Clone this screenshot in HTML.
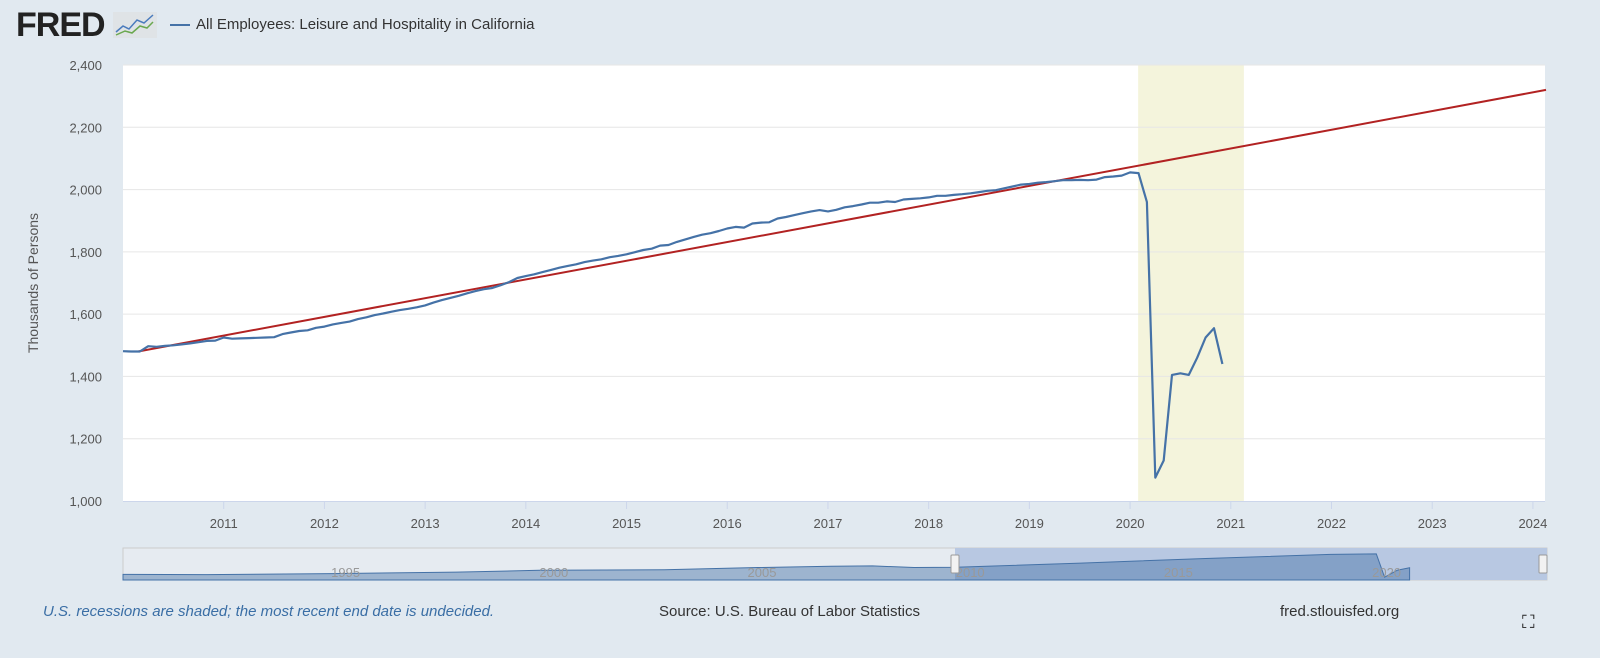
<!DOCTYPE html>
<html><head><meta charset="utf-8"><style>
body{margin:0;width:1600px;height:658px;background:#e1e9f0;font-family:"Liberation Sans",sans-serif;overflow:hidden;position:relative}
.t{position:absolute;white-space:nowrap}
</style></head><body>
<div class="t" style="left:16px;top:6px;font-size:34px;font-weight:bold;color:#222;letter-spacing:-1px">FRED</div>
<svg style="position:absolute;left:113px;top:12px" width="44" height="26"><rect x="0" y="0" width="44" height="26" fill="#dfe3e6"/><polyline points="3,20 10,14 16,17 24,8 31,11 40,3" fill="none" stroke="#4a7bbd" stroke-width="1.5"/><polyline points="3,23 12,19 19,21 27,14 34,16 40,10" fill="none" stroke="#6aa84f" stroke-width="1.5"/></svg>
<div class="t" style="left:170px;top:16px;font-size:15px;color:#333"><span style="display:inline-block;width:20px;height:2px;background:#4572a7;vertical-align:middle;margin-right:6px"></span>All Employees: Leisure and Hospitality in California</div>
<svg id="c" width="1600" height="658" style="position:absolute;left:0;top:0"></svg>
<div class="t" style="left:43px;top:603px;font-size:15px;font-style:italic;color:#3a6ea5">U.S. recessions are shaded; the most recent end date is undecided.</div>
<div class="t" style="left:659px;top:603px;font-size:15px;color:#333">Source: U.S. Bureau of Labor Statistics</div>
<div class="t" style="left:1280px;top:603px;font-size:15px;color:#333">fred.stlouisfed.org</div>
<div class="t" style="left:1522px;top:612px;font-size:18px;color:#222">⛶</div>
<script>
const yTicks=[1000,1200,1400,1600,1800,2000,2200,2400];
const xTicks=[2011,2012,2013,2014,2015,2016,2017,2018,2019,2020,2021,2022,2023,2024];
const startYear=2010;
const values=[1481,1480,1480,1497,1495,1498,1500,1503,1506,1510,1514,1515,
1525,1521,1522,1523,1524,1525,1526,1536,1541,1546,1548,1556,
1560,1567,1572,1576,1584,1590,1597,1602,1608,1613,1617,1622,
1628,1637,1645,1652,1659,1667,1674,1680,1684,1693,1703,1716,
1722,1728,1735,1742,1749,1755,1760,1767,1772,1776,1783,1787,
1792,1799,1806,1810,1820,1822,1832,1840,1848,1855,1860,1867,
1875,1880,1878,1891,1894,1895,1907,1912,1918,1924,1930,1934,
1930,1935,1943,1947,1952,1958,1958,1962,1960,1968,1970,1972,
1975,1980,1980,1983,1985,1988,1992,1996,1998,2004,2010,2016,
2018,2022,2024,2027,2030,2030,2031,2030,2032,2040,2042,2045,
2055,2053,1960,1075,1130,1405,1410,1405,1460,1525,1555,1440];
const trendX=[2010.15,2024.13];
const trendY=[1480,2320];
const recession=[2020.08,2021.13];
const navYears=[1990,1992,1995,1998,2000,2003,2005,2007,2008,2009,2010,2013,2016,2019,2020.1,2020.3,2020.6,2020.9];
const navVals=[1120,1110,1150,1210,1280,1300,1380,1440,1450,1390,1400,1560,1740,1900,1920,1010,1280,1380];
const navLabels=[1995,2000,2005,2010,2015,2020];
const L=123,R=1545,T=65,B=501,x0=2010,x1=2024.12;
const X=t=>L+(t-x0)/(x1-x0)*(R-L);
const Y=v=>B-(v-1000)/1400*(B-T);
const s=document.getElementById('c'),NS='http://www.w3.org/2000/svg';
function el(n,a,txt){const e=document.createElementNS(NS,n);for(const k in a)e.setAttribute(k,a[k]);if(txt!==undefined)e.textContent=txt;s.appendChild(e);return e;}
let e=el('rect',{x:L,y:T,width:R-L,height:B-T,fill:'#fff'});

e=el('rect',{x:X(recession[0]),y:T,width:X(recession[1])-X(recession[0]),height:B-T,fill:'#f4f4dc'});

yTicks.forEach(v=>{
 if(v>1000){e=el('line',{x1:L,x2:R,y1:Y(v),y2:Y(v),stroke:'#e6e6e6','stroke-width':1});
 }
 e=el('text',{x:102,y:Y(v)+5,'text-anchor':'end','font-size':13,fill:'#555'},v.toLocaleString('en-US'));
 
});
e=el('line',{x1:L,x2:R,y1:B+0.5,y2:B+0.5,stroke:'#ccd6eb'});

xTicks.forEach(t=>{
 e=el('line',{x1:X(t),x2:X(t),y1:B,y2:B+8,stroke:'#ccd6eb'});
 
 e=el('text',{x:X(t),y:528,'text-anchor':'middle','font-size':13,fill:'#555'},t);
 
});
e=el('text',{x:38,y:283,'text-anchor':'middle','font-size':14,fill:'#555',transform:'rotate(-90 38 283)'},'Thousands of Persons');

e=el('line',{x1:X(trendX[0]),y1:Y(trendY[0]),x2:X(trendX[1]),y2:Y(trendY[1]),stroke:'#b22222','stroke-width':2});

const pts=values.map((v,i)=>X(startYear+i/12).toFixed(1)+','+Y(v).toFixed(1)).join(' ');
e=el('polyline',{points:pts,fill:'none',stroke:'#4572a7','stroke-width':2.2,'stroke-linejoin':'round'});

// navigator
const NL=123,NR=1547,NT=548,NB=580,n0=1990,n1=2024.2;
const NX=t=>NL+(t-n0)/(n1-n0)*(NR-NL);
const NY=v=>NB-(v-900)/1250*(NB-NT);
e=el('rect',{x:NL,y:NT,width:NR-NL,height:NB-NT,fill:'#e6ebf1',stroke:'#ccc'});

e=el('rect',{x:955,y:NT,width:NR-955,height:NB-NT,fill:'#b8c8e2'});

let np=navYears.map((t,i)=>NX(t).toFixed(1)+','+NY(navVals[i]).toFixed(1));
e=el('polygon',{points:NX(navYears[0])+','+NB+' '+np.join(' ')+' '+NX(navYears[navYears.length-1])+','+NB,fill:'rgba(69,114,167,0.45)',stroke:'#4572a7','stroke-width':1});

navLabels.forEach(t=>{
 e=el('text',{x:NX(t),y:577,'text-anchor':'start','font-size':13,fill:'#999'},t);
 
});
[955,1543].forEach(x=>{
 e=el('rect',{x:x-4,y:555,width:8,height:18,fill:'#f2f2f2',stroke:'#999',rx:1});
 
});
</script>
</body></html>
